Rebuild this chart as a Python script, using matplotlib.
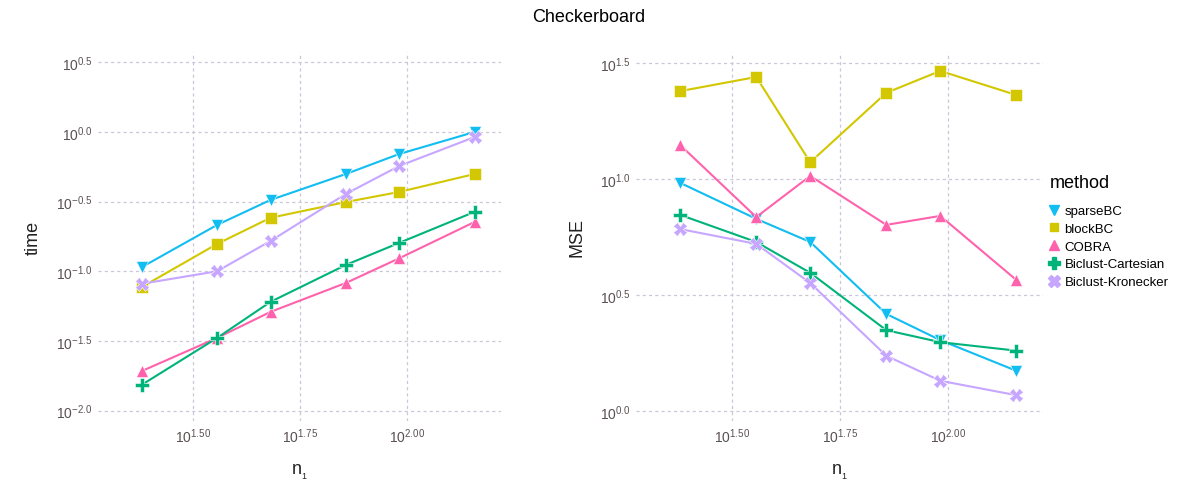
import numpy as np
import matplotlib
matplotlib.use("Agg")
import matplotlib.pyplot as plt
from matplotlib.lines import Line2D

plt.rcParams['font.family'] = ['Liberation Sans', 'DejaVu Sans']
plt.rcParams['mathtext.fontset'] = 'custom'
plt.rcParams['mathtext.rm'] = 'Liberation Sans'
plt.rcParams['mathtext.it'] = 'Liberation Sans:italic'
plt.rcParams['mathtext.bf'] = 'Liberation Sans:bold'

# sample sizes n1
n1 = [24, 36, 48, 72, 96, 144]
methods = ['sparseBC', 'blockBC', 'COBRA', 'Biclust-Cartesian', 'Biclust-Kronecker']

# run time (seconds)
time_sparseBC = [0.107, 0.215, 0.325, 0.499, 0.695, 1.00]
time_blockBC = [0.077, 0.157, 0.242, 0.314, 0.371, 0.499]
time_cobra = [0.0192, 0.0332, 0.0511, 0.0824, 0.124, 0.226]
time_cartesian = [0.0153, 0.0332, 0.0603, 0.111, 0.160, 0.267]
time_kronecker = [0.0813, 0.100, 0.165, 0.359, 0.570, 0.920]

# mean squared error
mse_sparseBC = [9.62, 6.73, 5.35, 2.62, 2.02, 1.49]
mse_blockBC = [23.9, 27.5, 11.8, 23.5, 29.2, 23.0]
mse_cobra = [14.0, 6.85, 10.3, 6.34, 6.93, 3.67]
mse_cartesian = [7.00, 5.35, 3.94, 2.23, 1.98, 1.82]
mse_kronecker = [6.08, 5.25, 3.56, 1.73, 1.35, 1.17]

colors = ['#12bdf2', '#d2c700', '#ff62ac', '#00b37a', '#c6a6ff']
markers = ['v', 's', '^', 'P', 'X']
msizes = [9, 8, 9, 10.5, 10]

time_data = [time_sparseBC, time_blockBC, time_cobra, time_cartesian, time_kronecker]
mse_data = [mse_sparseBC, mse_blockBC, mse_cobra, mse_cartesian, mse_kronecker]

grid_col = '#cbc7d9'
tick_col = '#5a5052'

fig = plt.figure(figsize=(11.77, 4.85), dpi=100)
ax1 = fig.add_axes([98/1177, 1-422/485, 403/1177, 369/485])
ax2 = fig.add_axes([636/1177, 1-422/485, 407/1177, 369/485])


def style_axis(ax, ylim, yticks, ylabel):
    ax.set_xscale('log')
    ax.set_yscale('log')
    ax.set_xlim(10**1.278, 10**2.22)
    ax.set_ylim(10**ylim[0], 10**ylim[1])
    xt = [1.5, 1.75, 2.0]
    ax.set_xticks([10**v for v in xt])
    ax.set_xticklabels(['$10^{%.2f}$' % v for v in xt])
    ax.set_yticks([10**v for v in yticks])
    ax.set_yticklabels(['$10^{%.1f}$' % v for v in yticks])
    ax.minorticks_off()
    ax.grid(True, color=grid_col, linestyle=(0, (2.5, 2.5)), linewidth=0.9)
    ax.set_axisbelow(True)
    for s in ax.spines.values():
        s.set_visible(False)
    ax.tick_params(length=0, labelsize=10, colors=tick_col, pad=4)
    ax.set_ylabel(ylabel, fontsize=13, color='#222222', labelpad=10)
    ax.set_xlabel(r'$\mathrm{n}_{_1}$', fontsize=13, color='#222222', labelpad=12)


for ax, data in [(ax1, time_data), (ax2, mse_data)]:
    for vals, c, m, ms in zip(data, colors, markers, msizes):
        ax.plot(n1, vals, color=c, lw=1.5)
        ax.plot(n1, vals, linestyle='none', marker=m, markersize=ms, color=c,
                markeredgecolor='white', markeredgewidth=0.4)

style_axis(ax1, (-2.075, 0.574), [-2.0, -1.5, -1.0, -0.5, 0.0, 0.5], 'time')
style_axis(ax2, (-0.043, 1.547), [0.0, 0.5, 1.0, 1.5], 'MSE')

fig.text(0.5, 1-18/485, 'Checkerboard', ha='center', va='center', fontsize=13)

# legend title drawn separately so the gap above the keys can be set
fig.text(1050/1177, 1-183/485, 'method', ha='left', va='center', fontsize=13)
handles = [Line2D([], [], linestyle='none', marker=m, color=c, markersize=ms*0.8)
           for c, m, ms in zip(colors, markers, msizes)]
leg = fig.legend(handles, methods, loc='upper left', frameon=False,
                 bbox_to_anchor=(1040/1177, 1-198/485),
                 fontsize=9.5, handlelength=0.9,
                 handletextpad=0.35, labelspacing=0.42,
                 borderaxespad=0.2)

fig.savefig('out.png', dpi=100)
